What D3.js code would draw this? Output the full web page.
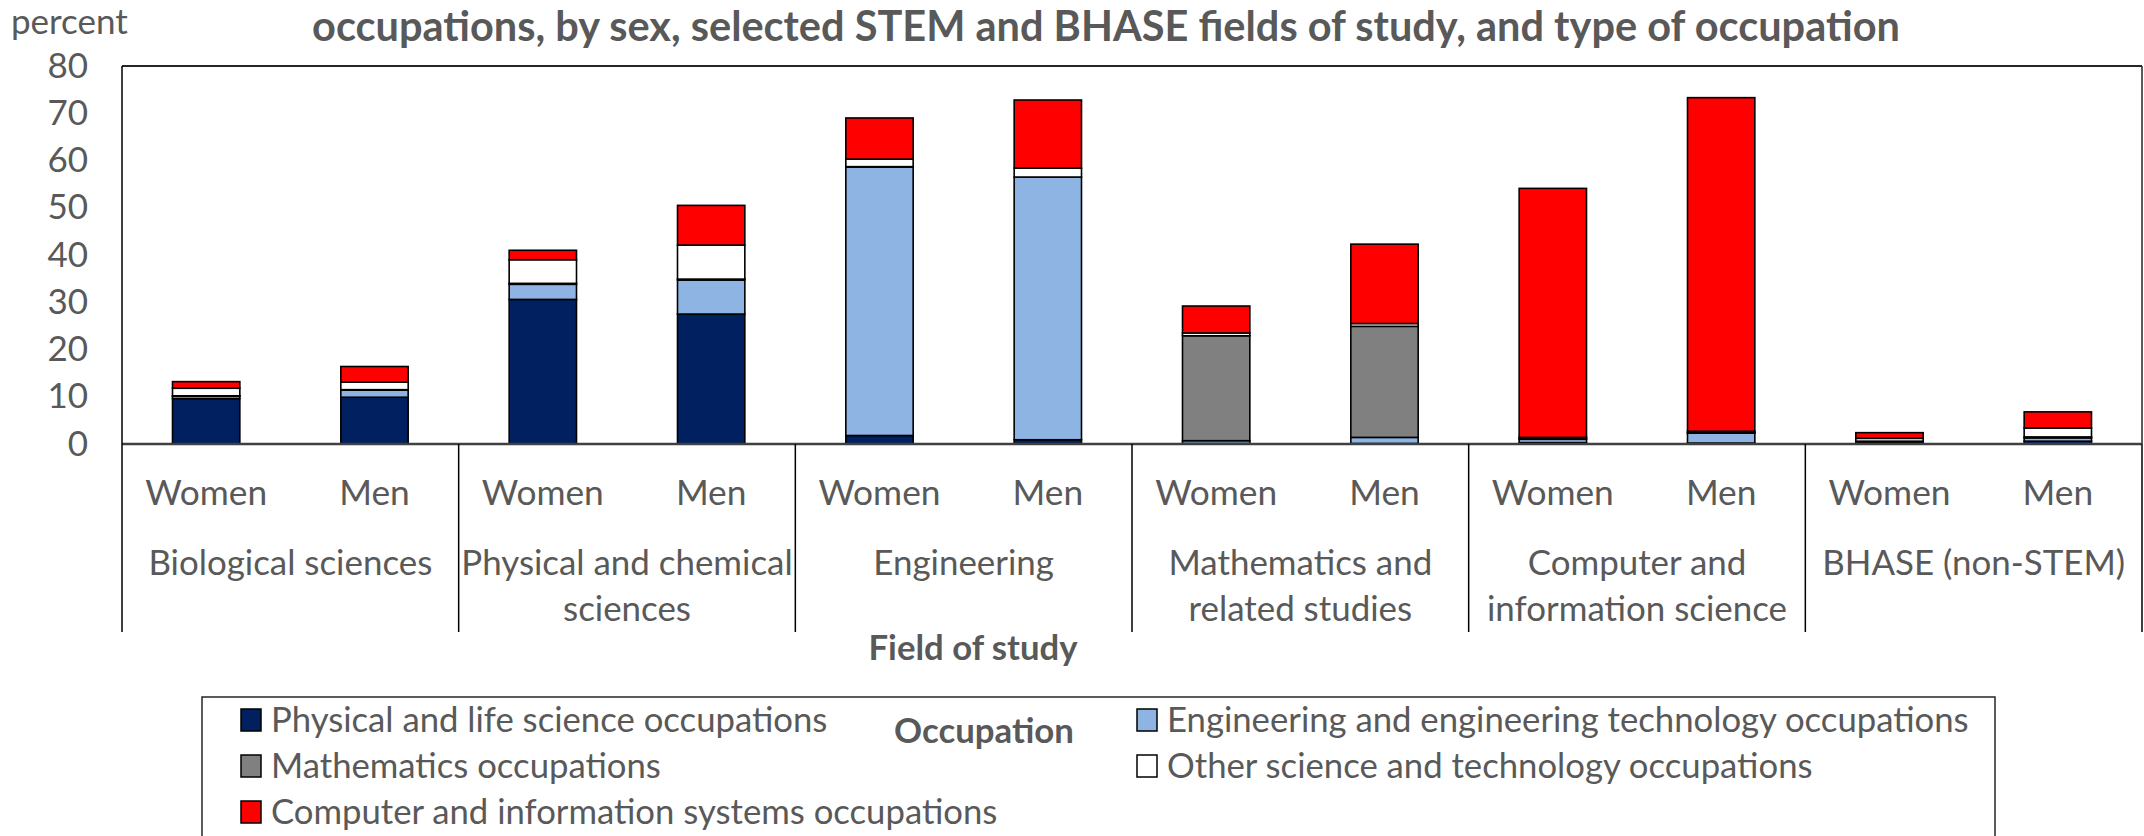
<!DOCTYPE html>
<html lang="en">
<head>
<meta charset="UTF-8">
<title>Occupations by field of study</title>
<script src="https://d3js.org/d3.v7.min.js"></script>
<style>
    body {
        margin: 0;
        background: #fff;
        font-family: 'Lato', sans-serif;
        overflow: hidden;
    }
    text { fill: #595959; }
</style>
</head>
<body>
<div id="chart"></div>
<script>
// data (percent)
const fields = ["Biological sciences", "Physical and chemical sciences", "Engineering",
    "Mathematics and related studies", "Computer and information science", "BHASE (non-STEM)"];
const fieldLines = [["Biological sciences"], ["Physical and chemical", "sciences"], ["Engineering"],
    ["Mathematics and", "related studies"], ["Computer and", "information science"], ["BHASE (non-STEM)"]];
const sexes = ["Women", "Men"];
const yTicks = [0, 10, 20, 30, 40, 50, 60, 70, 80];

const occupations = ["Physical and life science occupations", "Engineering and engineering technology occupations",
    "Mathematics occupations", "Other science and technology occupations", "Computer and information systems occupations"];
const occColors = ["#002060", "#8EB4E3", "#808080", "#FFFFFF", "#FF0000"];

// one value per bar: Women, Men for each field in order
const physLife = [9.6, 9.9, 30.6, 27.5, 1.8, 0.9, 0.1, 0.1, 0.3, 0.2, 0.3, 0.6];
const engTech  = [0.5, 1.5, 3.2, 7.2, 56.8, 55.6, 0.6, 1.3, 0.7, 2.1, 0.2, 0.7];
const maths    = [0.1, 0.1, 0.2, 0.2, 0.1, 0.0, 22.2, 23.5, 0.2, 0.1, 0.1, 0.2];
const otherSci = [1.6, 1.6, 5.0, 7.2, 1.6, 1.9, 0.6, 0.6, 0.2, 0.3, 0.6, 1.9];
const compInfo = [1.4, 3.3, 2.0, 8.4, 8.7, 14.4, 5.7, 16.8, 52.7, 70.6, 1.2, 3.4];

const width = 2144, height = 836;
const plot = { left: 122, right: 2142, top: 66, bottom: 444, catBottom: 632 };

const series = [physLife, engTech, maths, otherSci, compInfo];
const rows = [];
fields.forEach((f, i) => {
    sexes.forEach((s, j) => {
        const k = i * 2 + j;
        const row = { key: f + "|" + s, field: f, sex: s };
        occupations.forEach((o, n) => row[o] = series[n][k]);
        rows.push(row);
    });
});

const svg = d3.select("#chart").append("svg")
    .attr("width", width)
    .attr("height", height);

svg.append("rect").attr("width", width).attr("height", height).attr("fill", "#fff");

const x = d3.scaleBand()
    .domain(rows.map(d => d.key))
    .range([plot.left, plot.right])
    .paddingInner(0.6)
    .paddingOuter(0.3);

const xGroup = d3.scaleBand()
    .domain(fields)
    .range([plot.left, plot.right]);

const y = d3.scaleLinear()
    .domain([0, 80])
    .range([plot.bottom, plot.top]);

// title (second line of a longer title, cut at the top)
svg.append("text")
    .attr("x", 1106)
    .attr("y", 41)
    .attr("text-anchor", "middle")
    .attr("font-weight", "bold")
    .attr("font-size", 41.5)
    .text("occupations, by sex, selected STEM and BHASE fields of study, and type of occupation");

svg.append("text")
    .attr("x", 11)
    .attr("y", 34)
    .attr("font-size", 35)
    .text("percent");

// plot border (top and right)
svg.append("line")
    .attr("x1", plot.left).attr("x2", plot.right)
    .attr("y1", y(80)).attr("y2", y(80))
    .attr("stroke", "#262626").attr("stroke-width", 2);
svg.append("line")
    .attr("x1", plot.right).attr("x2", plot.right)
    .attr("y1", y(80)).attr("y2", plot.bottom)
    .attr("stroke", "#262626").attr("stroke-width", 1.5);

// y axis labels
const yAxis = d3.axisLeft(y)
    .tickValues(yTicks)
    .tickSize(0)
    .tickPadding(34);
const gy = svg.append("g")
    .attr("transform", `translate(${plot.left},0)`)
    .call(yAxis);
gy.select(".domain").remove();
gy.selectAll("text")
    .attr("font-family", "Lato, sans-serif")
    .attr("font-size", 35)
    .attr("fill", "#595959");

// stacked bars
const stack = d3.stack().keys(occupations);
const stacked = stack(rows);

svg.append("g")
    .selectAll("g")
    .data(stacked)
    .join("g")
    .attr("fill", (d, i) => occColors[i])
    .selectAll("rect")
    .data(d => d)
    .join("rect")
    .attr("x", d => x(d.data.key))
    .attr("width", x.bandwidth())
    .attr("y", d => y(d[1]))
    .attr("height", d => y(d[0]) - y(d[1]))
    .attr("stroke", "#000")
    .attr("stroke-width", 1.6);

// zero line
svg.append("line")
    .attr("x1", plot.left).attr("x2", plot.right)
    .attr("y1", y(0)).attr("y2", y(0))
    .attr("stroke", "#404040").attr("stroke-width", 2.5);

// y axis line, running down through the category area
svg.append("line")
    .attr("x1", plot.left).attr("x2", plot.left)
    .attr("y1", y(80)).attr("y2", plot.catBottom)
    .attr("stroke", "#000").attr("stroke-width", 1.5);

// group separators
svg.append("g")
    .selectAll("line")
    .data(fields)
    .join("line")
    .attr("x1", d => xGroup(d) + xGroup.bandwidth())
    .attr("x2", d => xGroup(d) + xGroup.bandwidth())
    .attr("y1", y(0))
    .attr("y2", plot.catBottom)
    .attr("stroke", "#000")
    .attr("stroke-width", 1.5);

// sex labels
svg.append("g")
    .selectAll("text")
    .data(rows)
    .join("text")
    .attr("x", d => x(d.key) + x.bandwidth() / 2)
    .attr("y", 505)
    .attr("text-anchor", "middle")
    .attr("font-size", 35.3)
    .text(d => d.sex);

// field labels
const gf = svg.append("g")
    .selectAll("text")
    .data(fields)
    .join("text")
    .attr("x", d => xGroup(d) + xGroup.bandwidth() / 2)
    .attr("y", 575)
    .attr("text-anchor", "middle")
    .attr("font-size", 34.9);
gf.selectAll("tspan")
    .data((d, i) => fieldLines[i])
    .join("tspan")
    .attr("x", function () { return d3.select(this.parentNode).attr("x"); })
    .attr("dy", (d, i) => i === 0 ? 0 : 46)
    .text(d => d);

svg.append("text")
    .attr("x", 973)
    .attr("y", 660)
    .attr("text-anchor", "middle")
    .attr("font-weight", "bold")
    .attr("font-size", 34.7)
    .text("Field of study");

// legend
const legend = svg.append("g");
legend.append("rect")
    .attr("x", 202).attr("y", 697)
    .attr("width", 1793).attr("height", 200)
    .attr("fill", "none")
    .attr("stroke", "#262626")
    .attr("stroke-width", 1.5);

legend.append("text")
    .attr("x", 984)
    .attr("y", 743)
    .attr("text-anchor", "middle")
    .attr("font-weight", "bold")
    .attr("font-size", 34.8)
    .text("Occupation");

const legendPos = [[241, 720], [1137, 720], [241, 766], [1137, 766], [241, 812]];
const items = legend.selectAll("g.item")
    .data(occupations)
    .join("g")
    .attr("class", "item")
    .attr("transform", (d, i) => `translate(${legendPos[i][0]},${legendPos[i][1]})`);
items.append("rect")
    .attr("x", 0).attr("y", -11)
    .attr("width", 20).attr("height", 22)
    .attr("fill", (d, i) => occColors[i])
    .attr("stroke", "#000")
    .attr("stroke-width", 1.5);
items.append("text")
    .attr("x", 30)
    .attr("y", 12)
    .attr("font-size", 34.7)
    .text(d => d);
</script>
</body>
</html>
